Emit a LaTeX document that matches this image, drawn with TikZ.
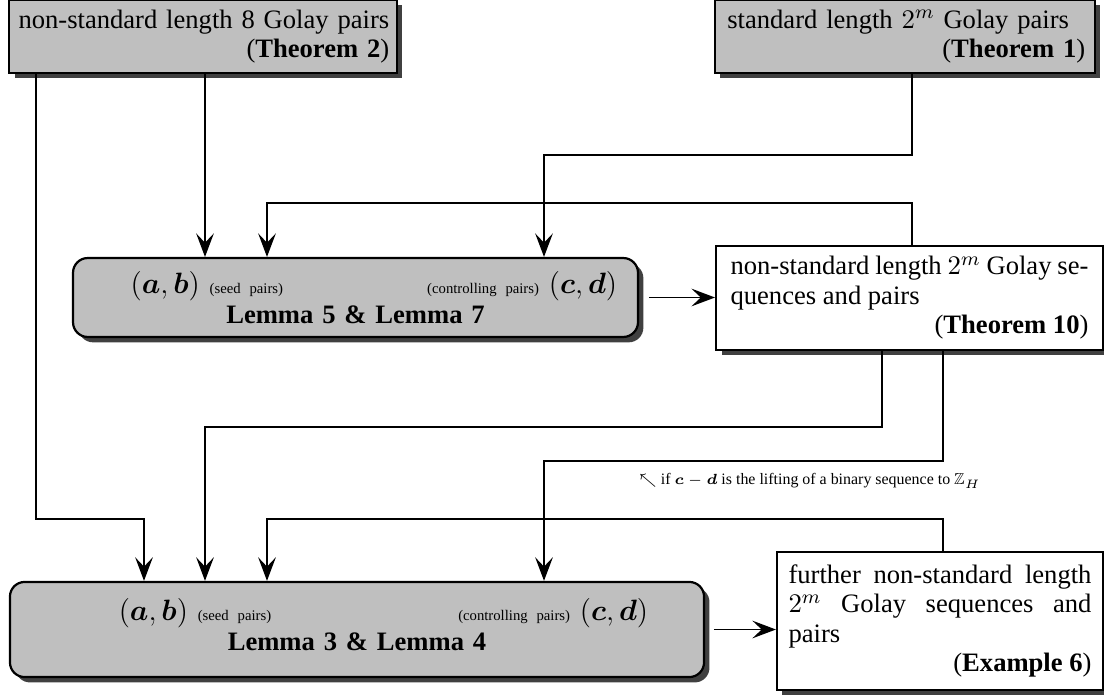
\documentclass[tikz,border=0pt]{standalone}
\usepackage{amsmath,amssymb}
\usepackage{fontspec}
\setmainfont{Liberation Serif}
\usetikzlibrary{shadows,arrows.meta}

\newcommand{\seqpair}[2]{{\fontsize{11.5}{12}\selectfont$(\boldsymbol{#1},\boldsymbol{#2})$}}
\newcommand{\smalltag}[1]{{\fontsize{6}{6.5}\selectfont(#1)}}

\begin{document}
\begin{tikzpicture}[%
    x=0.408pt,
    y=-0.408pt,
    ->,
    >={Stealth[length=9.6pt,width=7.2pt,inset=3.8pt]},
    line width=0.8pt,
    basebox/.style={%
      draw,
      line width=0.9pt,
      inner xsep=3.8pt,
      inner ysep=2pt,
      font=\fontsize{10.85}{12}\selectfont,
      drop shadow={shadow xshift=2.2pt,shadow yshift=-2.2pt,fill=black!75,opacity=1}
    },
    graybox/.style={basebox, fill=black!25},
    whitebox/.style={basebox, fill=white, align=justify},
    lemmabox/.style={graybox, rounded corners=6pt, align=center},
    note/.style={font=\fontsize{6.5}{7.5}\selectfont, inner sep=0pt}
  ]
    \useasboundingbox (0,0) rectangle (1104,698);

    \node[graybox, text width=152pt, inner xsep=3.1pt, minimum height=29.8pt, align=right] (len8) at (203,36.5)
      {non-standard length 8 Golay pairs\\(\textbf{Theorem 2})};
    \node[graybox, text width=147pt, inner xsep=4pt, minimum height=29.8pt, align=left] (std) at (905,36.5)
      {\hspace*{1pt}standard length $2^m$ Golay pairs\\\hspace*{\fill}(\textbf{Theorem 1})};
    \node[lemmabox, text width=213.5pt, inner xsep=8.5pt, minimum height=32.2pt] (lemA) at (355.5,297.5)
      {\hspace*{15pt}\seqpair{a}{b}\hspace{4pt}\smalltag{seed pairs}\hfill\smalltag{controlling pairs}\hspace{4pt}\seqpair{c}{d}\\\textbf{Lemma 5 \& Lemma 7}};
    \node[whitebox, text width=146pt, inner xsep=5.9pt, minimum height=42.4pt] (thm10) at (909.5,298)
      {non-standard length $2^m$ Golay se-\linebreak quences and pairs\\\hspace*{\fill}(\textbf{Theorem 10})};
    \node[lemmabox, text width=237.6pt, inner xsep=22.8pt, minimum height=38.8pt] (lemB) at (357,629.5)
      {\hspace*{21.6pt}\seqpair{a}{b}\hspace{4pt}\smalltag{seed pairs}\hfill\smalltag{controlling pairs}\hspace{4pt}\seqpair{c}{d}\\\textbf{Lemma 3 \& Lemma 4}\\[-8pt]\mbox{}};
    \node[whitebox, text width=123.6pt, inner xsep=4.7pt, minimum height=56.3pt] (ex6) at (940,621)
      {further non-standard length\linebreak $2^m$ Golay sequences and\linebreak pairs\\\hspace*{\fill}(\textbf{Example 6})};
    \node[note, anchor=west] (cond) at (638,481)
      {$\nwarrow$ if $\boldsymbol{c}-\boldsymbol{d}$ is the lifting of a binary sequence to $\mathbb{Z}_H$};

    % bends of the connectors
    \coordinate (k1) at (36,519);
    \coordinate (k2) at (912,155);
    \coordinate (k3) at (912,203);
    \coordinate (k4) at (882,427);
    \coordinate (k5) at (943,461);
    \coordinate (k6) at (943,519);

    \draw (len8.south -| k1) -- (k1) -| (lemB.north -| 144,0);
    \draw (len8.south -| 205,0) -- (lemA.north -| 205,0);
    \draw (std.south -| k2) -- (k2) -| (lemA.north -| 544,0);
    \draw (thm10.north -| k3) -- (k3) -| (lemA.north -| 267,0);
    \draw[shorten <=4pt] (lemA.east) -- (thm10.west |- lemA.east);
    \draw (thm10.south -| k4) -- (k4) -| (lemB.north -| 205,0);
    \draw (thm10.south -| k5) -- (k5) -| (lemB.north -| 544,0);
    \draw (ex6.north -| k6) -- (k6) -| (lemB.north -| 267,0);
    \draw[shorten <=3.6pt] (lemB.east) -- (ex6.west |- lemB.east);
\end{tikzpicture}
\end{document}
